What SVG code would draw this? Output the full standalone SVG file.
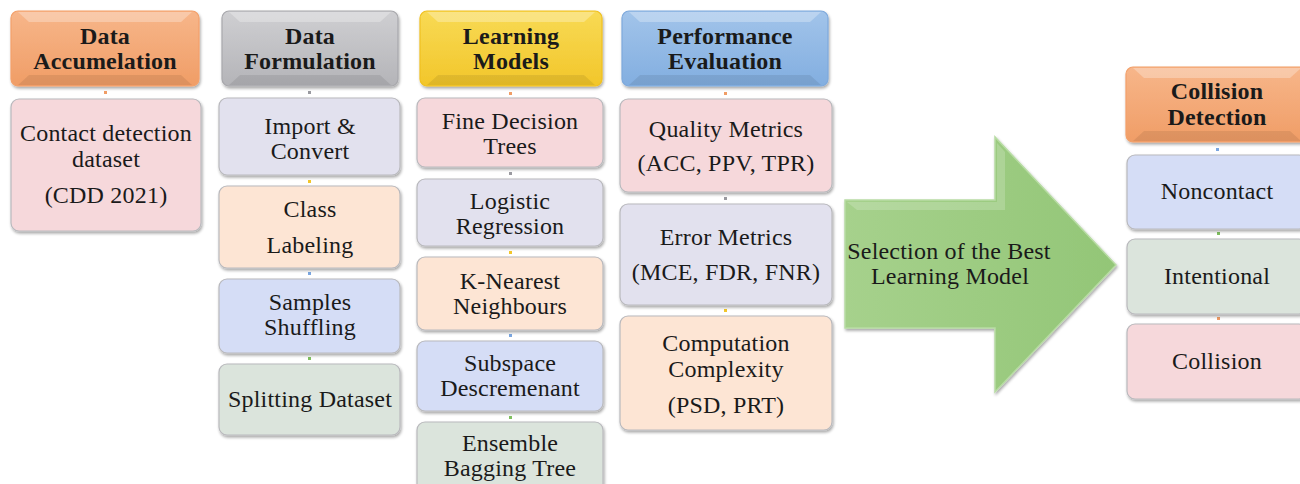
<svg xmlns="http://www.w3.org/2000/svg" width="1300" height="484" viewBox="0 0 1300 484">
  <defs>
    <filter id="shadow" x="-10%" y="-10%" width="125%" height="130%">
      <feGaussianBlur in="SourceAlpha" stdDeviation="1.5"/>
      <feOffset dx="1" dy="2" result="b"/>
      <feComponentTransfer><feFuncA type="linear" slope="0.35"/></feComponentTransfer>
      <feMerge><feMergeNode/><feMergeNode in="SourceGraphic"/></feMerge>
    </filter>
    <linearGradient id="gOrange" x1="0" y1="0" x2="0" y2="1">
      <stop offset="0" stop-color="#f7b68a"/><stop offset="1" stop-color="#f09d66"/>
    </linearGradient>
    <linearGradient id="gGray" x1="0" y1="0" x2="0" y2="1">
      <stop offset="0" stop-color="#cfcfd2"/><stop offset="1" stop-color="#b4b4b8"/>
    </linearGradient>
    <linearGradient id="gYellow" x1="0" y1="0" x2="0" y2="1">
      <stop offset="0" stop-color="#f8da55"/><stop offset="1" stop-color="#f2c62a"/>
    </linearGradient>
    <linearGradient id="gBlue" x1="0" y1="0" x2="0" y2="1">
      <stop offset="0" stop-color="#a2c4ea"/><stop offset="1" stop-color="#82aee0"/>
    </linearGradient>
    <linearGradient id="gArrow" x1="0" y1="0" x2="1" y2="0">
      <stop offset="0" stop-color="#a6d18c"/><stop offset="1" stop-color="#93c677"/>
    </linearGradient>
  </defs>
  <style>
    text { font-family: "Liberation Serif", "DejaVu Serif", serif; fill: #1a1a1a; text-anchor: middle; letter-spacing: 0.2px; }
    .h { font-size: 24px; font-weight: bold; }
    .t { font-size: 24px; }
    .box { stroke: #b9b9bd; stroke-width: 1.2; filter: url(#shadow); }
    .hdr { stroke-width: 1.2; filter: url(#shadow); }
    .hi { fill: #ffffff; opacity: 0.28; }
    .lo { fill: #000000; opacity: 0.08; }
    .pink { fill: #f6d8db; }
    .lav { fill: #e2e1ee; }
    .peach { fill: #fde5d4; }
    .lblue { fill: #d5ddf6; }
    .lgreen { fill: #dbe4dc; }
  </style>

  <!-- small link markers between stacked boxes -->
  <g id="connectors">
    <rect x="104" y="91" width="3" height="3" fill="#f09d66"/>
    <rect x="308" y="91" width="3" height="3" fill="#9a9aa0"/>
    <rect x="308" y="180" width="3" height="3" fill="#f2c62a"/>
    <rect x="308" y="272" width="3" height="3" fill="#7aa6e0"/>
    <rect x="308" y="357" width="3" height="3" fill="#80c060"/>
    <rect x="509" y="92" width="3" height="3" fill="#f09d66"/>
    <rect x="509" y="172" width="3" height="3" fill="#9a9aa0"/>
    <rect x="509" y="251" width="3" height="3" fill="#f2c62a"/>
    <rect x="509" y="334" width="3" height="3" fill="#7aa6e0"/>
    <rect x="509" y="416" width="3" height="3" fill="#80c060"/>
    <rect x="724" y="92" width="3" height="3" fill="#f09d66"/>
    <rect x="724" y="197" width="3" height="3" fill="#9a9aa0"/>
    <rect x="724" y="309" width="3" height="3" fill="#f2c62a"/>
    <rect x="1216" y="148" width="3" height="3" fill="#7aa6e0"/>
    <rect x="1217" y="232" width="3" height="3" fill="#80c060"/>
    <rect x="1217" y="317" width="3" height="3" fill="#f09d66"/>
  </g>

  <!-- Column 1 -->
  <g id="data-accumelation">
    <rect class="hdr" x="11" y="11" width="188" height="75" rx="7" fill="url(#gOrange)" stroke="#f3a06a"/>
    <path class="hi" d="M18 12 H192 L181 22 H29 Z"/>
    <path class="lo" d="M29 75 H181 L192 85 H18 Z"/>
    <text class="h" x="105" y="44">Data</text>
    <text class="h" x="105" y="69">Accumelation</text>
  </g>
  <g id="contact-dataset">
    <rect class="box pink" x="11" y="99" width="190" height="132" rx="8"/>
    <text class="t" x="106" y="141">Contact detection</text>
    <text class="t" x="106" y="167">dataset</text>
    <text class="t" x="106" y="203">(CDD 2021)</text>
  </g>

  <!-- Column 2 -->
  <g id="data-formulation">
    <rect class="hdr" x="222" y="11" width="176" height="75" rx="7" fill="url(#gGray)" stroke="#a8a8ac"/>
    <path class="hi" d="M229 12 H391 L380 22 H240 Z"/>
    <path class="lo" d="M240 75 H380 L391 85 H229 Z"/>
    <text class="h" x="310" y="44">Data</text>
    <text class="h" x="310" y="69">Formulation</text>
  </g>
  <g id="import-convert">
    <rect class="box lav" x="219" y="98" width="181" height="77" rx="8"/>
    <text class="t" x="310" y="134">Import &amp;</text>
    <text class="t" x="310" y="159">Convert</text>
  </g>
  <g id="class-labeling">
    <rect class="box peach" x="219" y="186" width="181" height="82" rx="8"/>
    <text class="t" x="310" y="217">Class</text>
    <text class="t" x="310" y="253">Labeling</text>
  </g>
  <g id="samples-shuffling">
    <rect class="box lblue" x="219" y="279" width="181" height="74" rx="8"/>
    <text class="t" x="310" y="310">Samples</text>
    <text class="t" x="310" y="335">Shuffling</text>
  </g>
  <g id="splitting-dataset">
    <rect class="box lgreen" x="219" y="364" width="181" height="71" rx="8"/>
    <text class="t" x="310" y="407">Splitting Dataset</text>
  </g>

  <!-- Column 3 -->
  <g id="learning-models">
    <rect class="hdr" x="420" y="11" width="182" height="75" rx="7" fill="url(#gYellow)" stroke="#f0c020"/>
    <path class="hi" d="M427 12 H595 L584 22 H438 Z"/>
    <path class="lo" d="M438 75 H584 L595 85 H427 Z"/>
    <text class="h" x="511" y="44">Learning</text>
    <text class="h" x="511" y="69">Models</text>
  </g>
  <g id="fine-decision-trees">
    <rect class="box pink" x="417" y="98" width="186" height="69" rx="8"/>
    <text class="t" x="510" y="129">Fine Decision</text>
    <text class="t" x="510" y="154">Trees</text>
  </g>
  <g id="logistic-regression">
    <rect class="box lav" x="417" y="179" width="186" height="67" rx="8"/>
    <text class="t" x="510" y="209">Logistic</text>
    <text class="t" x="510" y="234">Regression</text>
  </g>
  <g id="k-nearest">
    <rect class="box peach" x="417" y="257" width="186" height="73" rx="8"/>
    <text class="t" x="510" y="289">K-Nearest</text>
    <text class="t" x="510" y="314">Neighbours</text>
  </g>
  <g id="subspace-descremenant">
    <rect class="box lblue" x="417" y="341" width="186" height="70" rx="8"/>
    <text class="t" x="510" y="371">Subspace</text>
    <text class="t" x="510" y="396">Descremenant</text>
  </g>
  <g id="ensemble-bagging">
    <rect class="box lgreen" x="417" y="422" width="186" height="72" rx="8"/>
    <text class="t" x="510" y="451">Ensemble</text>
    <text class="t" x="510" y="476">Bagging Tree</text>
  </g>

  <!-- Column 4 -->
  <g id="performance-evaluation">
    <rect class="hdr" x="622" y="11" width="206" height="75" rx="7" fill="url(#gBlue)" stroke="#7ea9dc"/>
    <path class="hi" d="M629 12 H821 L810 22 H640 Z"/>
    <path class="lo" d="M640 75 H810 L821 85 H629 Z"/>
    <text class="h" x="725" y="44">Performance</text>
    <text class="h" x="725" y="69">Evaluation</text>
  </g>
  <g id="quality-metrics">
    <rect class="box pink" x="620" y="99" width="212" height="93" rx="8"/>
    <text class="t" x="726" y="137">Quality Metrics</text>
    <text class="t" x="726" y="171">(ACC,  PPV, TPR)</text>
  </g>
  <g id="error-metrics">
    <rect class="box lav" x="620" y="204" width="212" height="101" rx="8"/>
    <text class="t" x="726" y="245">Error Metrics</text>
    <text class="t" x="726" y="280">(MCE, FDR, FNR)</text>
  </g>
  <g id="computation-complexity">
    <rect class="box peach" x="620" y="316" width="212" height="114" rx="8"/>
    <text class="t" x="726" y="351">Computation</text>
    <text class="t" x="726" y="377">Complexity</text>
    <text class="t" x="726" y="413">(PSD, PRT)</text>
  </g>

  <!-- Selection arrow -->
  <g id="selection-arrow">
    <path d="M845 200 H995 V137 L1116 265 L995 392 V328 H845 Z" fill="url(#gArrow)" stroke="#b8dca4" stroke-width="1.5" filter="url(#shadow)"/>
    <path d="M847 202 H997 V143 L1005 152 V210 H857 Z" fill="#ffffff" opacity="0.18"/>
    <text class="t" x="949" y="259">Selection of the Best</text>
    <text class="t" x="950" y="284">Learning Model</text>
  </g>

  <!-- Column 5 -->
  <g id="collision-detection">
    <rect class="hdr" x="1126" y="67" width="182" height="75" rx="7" fill="url(#gOrange)" stroke="#f3a06a"/>
    <path class="hi" d="M1133 68 H1301 L1290 78 H1144 Z"/>
    <path class="lo" d="M1144 131 H1290 L1301 141 H1133 Z"/>
    <text class="h" x="1217" y="99">Collision</text>
    <text class="h" x="1217" y="125">Detection</text>
  </g>
  <g id="noncontact">
    <rect class="box lblue" x="1127" y="155" width="180" height="74" rx="8"/>
    <text class="t" x="1217" y="199">Noncontact</text>
  </g>
  <g id="intentional">
    <rect class="box lgreen" x="1127" y="239" width="180" height="75" rx="8"/>
    <text class="t" x="1217" y="284">Intentional</text>
  </g>
  <g id="collision">
    <rect class="box pink" x="1127" y="324" width="180" height="75" rx="8"/>
    <text class="t" x="1217" y="369">Collision</text>
  </g>
</svg>
